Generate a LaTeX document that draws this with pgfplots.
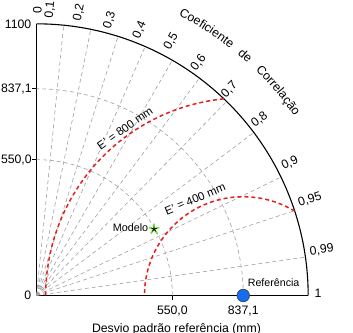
\documentclass[border=0pt]{standalone}
\usepackage{pgfplots}
\pgfplotsset{compat=1.18}
\usepackage{fontspec}
\setmainfont{Liberation Sans}
\usetikzlibrary{decorations.text}
\definecolor{refblue}{RGB}{20,110,240}
\definecolor{gridgray}{RGB}{160,160,160}
\definecolor{rmsred}{RGB}{230,30,30}
\definecolor{modgreen}{RGB}{120,225,70}
\newcommand{\tl}{\fontsize{12.3}{14}\selectfont}
\begin{document}
\begin{tikzpicture}
\begin{axis}[
  x=0.247bp, y=0.247bp,
  xmin=0, xmax=1100, ymin=0, ymax=1100,
  axis x line=bottom, axis y line=left,
  axis line style={-, line width=1.1bp, black},
  xtick={550,837.1}, xticklabels={{550,0},{837,1}},
  ytick={550,837.1}, yticklabels={{550,0},{837,1}},
  extra y ticks={0,1100}, extra y tick labels={0,1100},
  extra y tick style={major tick length=0pt, yticklabel style={xshift=-4.5bp}},
  tick align=outside, major tick length=4bp,
  tick style={black, line width=0.8bp},
  ticklabel style={font=\tl},
  yticklabel style={inner sep=0.6bp},
  xticklabel style={yshift=-3bp},
  clip=false,
]
\coordinate (O) at (axis cs:0,0);
% correlation rays
\pgfplotsset{grd/.style={gridgray, line width=0.6bp, dash pattern=on 4bp off 3bp}}
\addplot[grd] coordinates {(0,0) (110,1094.5)};
\addplot[grd] coordinates {(0,0) (220,1077.8)};
\addplot[grd] coordinates {(0,0) (330,1049.3)};
\addplot[grd] coordinates {(0,0) (440,1008.2)};
\addplot[grd] coordinates {(0,0) (550,952.6)};
\addplot[grd] coordinates {(0,0) (660,880)};
\addplot[grd] coordinates {(0,0) (770,785.6)};
\addplot[grd] coordinates {(0,0) (880,660)};
\addplot[grd] coordinates {(0,0) (990,479.5)};
\addplot[grd] coordinates {(0,0) (1045,343.5)};
\addplot[grd] coordinates {(0,0) (1089,155.2)};
% std arcs
\addplot[grd, domain=0:90, samples=60] ({550*cos(x)},{550*sin(x)});
\addplot[grd, domain=0:90, samples=60] ({837.1*cos(x)},{837.1*sin(x)});
% outer arc
\addplot[black, line width=1.1bp, domain=0:90, samples=90] ({1100*cos(x)},{1100*sin(x)});
% RMS arcs
\addplot[rmsred, line width=1.5bp, dash pattern=on 4bp off 3bp, domain=58.6:180, samples=80] ({837.1+400*cos(x)},{400*sin(x)});
\addplot[rmsred, line width=1.5bp, dash pattern=on 4bp off 3bp, domain=95.6:180, samples=100] ({837.1+800*cos(x)},{800*sin(x)});
\node[rotate=35, font=\fontsize{11.5}{13}\selectfont] at (axis cs:358,677) {E' = 800 mm};
\node[rotate=23, font=\fontsize{11.5}{13}\selectfont] at (axis cs:642,391) {E' = 400 mm};
% correlation labels
\node[rotate=90, font=\tl] at (axis cs:4,1156) {0};
\node[rotate=84.26, font=\tl] at (axis cs:55,1158) {0,1};
\node[rotate=78.46, font=\tl] at (axis cs:172,1146) {0,2};
\node[rotate=72.54, font=\tl] at (axis cs:296,1115) {0,3};
\node[rotate=66.42, font=\tl] at (axis cs:417,1075) {0,4};
\node[rotate=60, font=\tl] at (axis cs:545,1030) {0,5};
\node[rotate=53.13, font=\tl] at (axis cs:656,943) {0,6};
\node[rotate=45.57, font=\tl] at (axis cs:781,834) {0,7};
\node[rotate=36.87, font=\tl] at (axis cs:903,713) {0,8};
\node[rotate=25.84, font=\tl] at (axis cs:1026,536) {0,9};
\node[rotate=18.19, font=\tl] at (axis cs:1107,387) {0,95};
\node[rotate=8.11, font=\tl] at (axis cs:1155,184) {0,99};
\node[font=\tl] at (axis cs:1140,10) {1};
% model
\addplot[only marks, mark=star, mark size=5.5bp, mark options={modgreen, line width=1.8bp}] coordinates {(476,269)};
\addplot[only marks, mark=star, mark size=2.8bp, mark options={black, line width=0.8bp}] coordinates {(476,269)};
\node[anchor=mid east, inner sep=0pt, font=\fontsize{10.8}{12}\selectfont] at (axis cs:453,271) {Modelo};
% reference
\addplot[only marks, mark=*, mark size=6.3bp, mark options={fill=refblue, draw=black!75, line width=0.6bp}] coordinates {(837.1,0)};
\node[anchor=base west, inner sep=0pt, font=\fontsize{10.7}{12}\selectfont] at (axis cs:855,35.6) {Referência};
\end{axis}
\path[decorate, decoration={text along path, text={|\tl|Coeficiente}, text align=center}] ([shift={(65:314bp)}]O) arc[start angle=65, end angle=50, radius=314bp];
\path[decorate, decoration={text along path, text={|\tl|de}, text align=center}] ([shift={(53:314bp)}]O) arc[start angle=53, end angle=45, radius=314bp];
\path[decorate, decoration={text along path, text={|\tl|Correlação}, text align=center}] ([shift={(48:314bp)}]O) arc[start angle=48, end angle=32.6, radius=314bp];
\node[anchor=base, font=\tl] at ([shift={(140bp,-36.5bp)}]O) {Desvio padrão referência (mm)};
\pgfresetboundingbox
\path ([shift={(-36.5bp,-37.5bp)}]O) rectangle ([shift={(316.5bp,295.5bp)}]O);
\end{tikzpicture}
\end{document}
